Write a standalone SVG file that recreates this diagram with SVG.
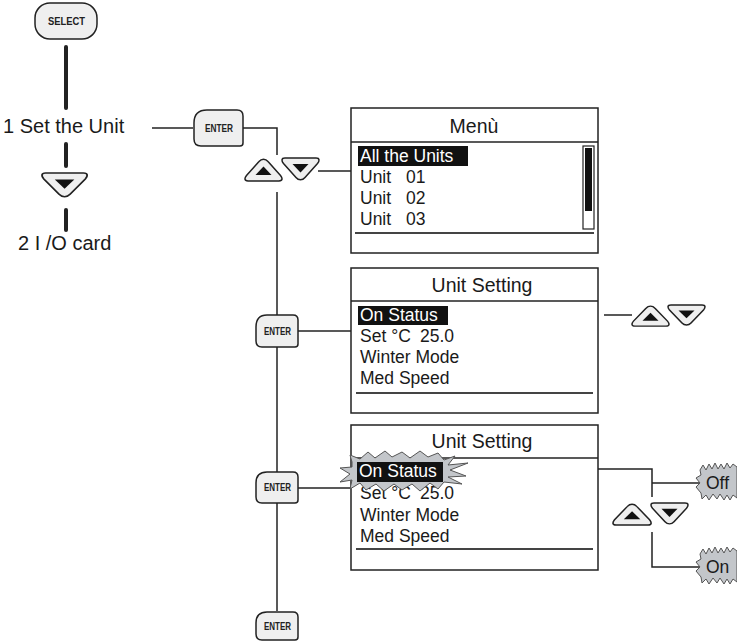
<svg xmlns="http://www.w3.org/2000/svg" width="737" height="642" viewBox="0 0 737 642">
<style>
.t{font-family:"Liberation Sans",Arial,sans-serif;fill:#1a1a1a}
.big{font-size:20px}
.ttl{font-size:19.5px}
.itm{font-size:17.5px}
.wh{fill:#fff}
.btn{font-family:"Liberation Sans",Arial,sans-serif;font-weight:bold;font-size:10.5px;fill:#222}
.box{fill:#fff;stroke:#222;stroke-width:1.5}
.ln{stroke:#222;stroke-width:1.5;fill:none}
.thick{stroke:#222;stroke-width:4;stroke-linecap:round;fill:none}
.key{fill:#efefef;stroke:#222;stroke-width:1.5}
.sep{stroke:#444;stroke-width:2}
.burst{fill:#c3c6ca;stroke:#555;stroke-width:1}
</style>
<defs>
<g id="up">
<path class="key" d="M3,23 C-1,23 -0.5,20 1.5,17.5 L14,3.5 C16.5,0.5 20.5,0.5 23,3.5 L35.5,17.5 C37.5,20 38,23 34,23 Z"/>
<path d="M10.5,17 L18.5,8.5 L26.5,17 Z" fill="#111"/>
</g>
<g id="down">
<path class="key" d="M3,0 C-1,0 -0.5,3 1.5,5.5 L14,19.5 C16.5,22.5 20.5,22.5 23,19.5 L35.5,5.5 C37.5,3 38,0 34,0 Z"/>
<path d="M10.5,6 L26.5,6 L18.5,14.5 Z" fill="#111"/>
</g>
</defs>

<g id="connectors">
<line class="thick" x1="66" y1="47" x2="66" y2="108"/>
<line class="thick" x1="66" y1="144" x2="66" y2="166"/>
<line class="thick" x1="66" y1="210" x2="66" y2="230"/>
<line class="ln" x1="152" y1="128" x2="193" y2="128"/>
<polyline class="ln" points="243,128 277,128 277,155"/>
<line class="ln" x1="318" y1="171" x2="351" y2="171"/>
<line class="ln" x1="277" y1="192" x2="277" y2="315"/>
<line class="ln" x1="277" y1="347" x2="277" y2="472"/>
<line class="ln" x1="277" y1="503" x2="277" y2="611"/>
<line class="ln" x1="298" y1="331" x2="351" y2="331"/>
<line class="ln" x1="298" y1="488" x2="351" y2="488"/>
<line class="ln" x1="604" y1="315" x2="632" y2="315"/>
<polyline class="ln" points="598,469 652,469 652,497"/>
<line class="ln" x1="652" y1="483" x2="700" y2="483"/>
<polyline class="ln" points="652,532 652,567 700,567"/>
</g>

<g id="select">
<rect class="key" x="35" y="3" width="62" height="36" rx="15"/>
<text class="btn" x="48" y="25" textLength="37" lengthAdjust="spacingAndGlyphs">SELECT</text>
</g>

<g id="set-unit">
<text class="t big" x="3" y="133">1 Set the Unit</text>
</g>

<g id="down-left">
<use href="#down" transform="translate(42,173) scale(1.22,1.09)"/>
</g>

<g id="io-card">
<text class="t big" x="18" y="250">2 I /O card</text>
</g>

<g id="enter1">
<path class="key" d="M207,110 H237 Q243,110 243,116 V143 Q243,146 240,146 H201 Q194,146 194,139 V123 Q194,110 207,110 Z"/>
<text class="btn" x="205" y="132" textLength="28" lengthAdjust="spacingAndGlyphs">ENTER</text>
</g>

<g id="arrows1">
<use href="#up" transform="translate(245,158)"/>
<use href="#down" transform="translate(282,158)"/>
</g>

<g id="menu">
<rect class="box" x="351" y="108" width="247" height="145"/>
<line class="ln" x1="351" y1="142" x2="598" y2="142"/>
<text class="t ttl" x="474" y="133" text-anchor="middle">Menù</text>
<rect x="358" y="146" width="110" height="20" fill="#111"/>
<text class="t itm wh" x="360" y="162">All the Units</text>
<text class="t itm" y="183"><tspan x="360">Unit</tspan><tspan x="406">01</tspan></text>
<text class="t itm" y="204"><tspan x="360">Unit</tspan><tspan x="406">02</tspan></text>
<text class="t itm" y="225"><tspan x="360">Unit</tspan><tspan x="406">03</tspan></text>
<rect x="583" y="146" width="11" height="83" fill="#fff" stroke="#222" stroke-width="1.2"/>
<rect x="585" y="148" width="7" height="63" fill="#111"/>
<line class="sep" x1="355" y1="233" x2="594" y2="233"/>
</g>

<g id="enter2">
<path class="key" d="M267,315 H293 Q298,315 298,320 V344 Q298,347 295,347 H262 Q256,347 256,341 V327 Q256,315 267,315 Z"/>
<text class="btn" x="264" y="334.5" textLength="27" font-size="10" lengthAdjust="spacingAndGlyphs">ENTER</text>
</g>

<g id="unit-setting1">
<rect class="box" x="351" y="268" width="247" height="145"/>
<line class="ln" x1="351" y1="301" x2="598" y2="301"/>
<text class="t ttl" x="482" y="292" text-anchor="middle">Unit Setting</text>
<rect x="358" y="306" width="90" height="19" fill="#111"/>
<text class="t itm wh" x="360" y="321">On Status</text>
<text class="t itm" y="342"><tspan x="360">Set °C</tspan><tspan x="420">25.0</tspan></text>
<text class="t itm" x="360" y="363">Winter Mode</text>
<text class="t itm" x="360" y="384">Med Speed</text>
<line class="sep" x1="356" y1="393" x2="593" y2="393"/>
</g>

<g id="arrows2">
<use href="#up" transform="translate(632,305) scale(1,0.92)"/>
<use href="#down" transform="translate(668,305) scale(1,0.92)"/>
</g>

<g id="enter3">
<path class="key" d="M267,472 H293 Q298,472 298,477 V500 Q298,503 295,503 H262 Q256,503 256,497 V483 Q256,472 267,472 Z"/>
<text class="btn" x="264" y="491" textLength="27" font-size="10" lengthAdjust="spacingAndGlyphs">ENTER</text>
</g>

<g id="unit-setting2">
<rect class="box" x="351" y="425" width="247" height="145"/>
<line class="ln" x1="351" y1="458" x2="598" y2="458"/>
<text class="t ttl" x="482" y="448" text-anchor="middle">Unit Setting</text>
<text class="t itm" y="499"><tspan x="360">Set °C</tspan><tspan x="420">25.0</tspan></text>
<text class="t itm" x="360" y="521">Winter Mode</text>
<text class="t itm" x="360" y="542">Med Speed</text>
<line class="sep" x1="356" y1="549" x2="593" y2="549"/>
<polygon class="burst" points="352,462 350,455 360,459 368,452 375,458 385,451 392,457 402,452 410,458 420,451 428,457 438,453 444,460 455,456 448,465 468,463 450,470 466,476 448,477 462,484 444,482 438,489 430,483 420,491 412,484 402,490 394,484 384,491 376,484 366,490 360,483 350,489 352,480 340,482 350,474 340,468 352,467"/>
<rect x="357" y="462" width="86" height="20" fill="#111"/>
<text class="t itm wh" x="359" y="477">On Status</text>
</g>

<g id="arrows3">
<use href="#up" transform="translate(613,503) scale(1.03,0.96)"/>
<use href="#down" transform="translate(651,503) scale(1,0.96)"/>
</g>

<g id="off">
<polygon class="burst" points="700,470 703,465 706,470 709,464 712,469 715,463 718,469 721,464 724,469 727,463 730,468 733,464 737,467 737,498 733,495 730,500 727,495 724,500 720,494 717,499 713,494 709,500 706,495 702,499 701,493 696,487 700,483 696,478 701,475"/>
<text class="t itm" x="706" y="489">Off</text>
</g>

<g id="enter4">
<path class="key" d="M267,612 H293 Q298,612 298,617 V637 Q298,640 295,640 H262 Q256,640 256,634 V623 Q256,612 267,612 Z"/>
<text class="btn" x="264" y="630" textLength="27" font-size="10" lengthAdjust="spacingAndGlyphs">ENTER</text>
</g>

<g id="on">
<polygon class="burst" points="700,554 703,549 706,554 709,548 712,553 715,547 718,553 721,548 724,553 727,547 730,552 733,548 737,551 737,582 733,579 730,584 727,579 724,584 720,578 717,583 713,578 709,584 706,579 702,583 701,577 696,571 700,567 696,562 701,559"/>
<text class="t itm" x="706" y="573">On</text>
</g>
</svg>
